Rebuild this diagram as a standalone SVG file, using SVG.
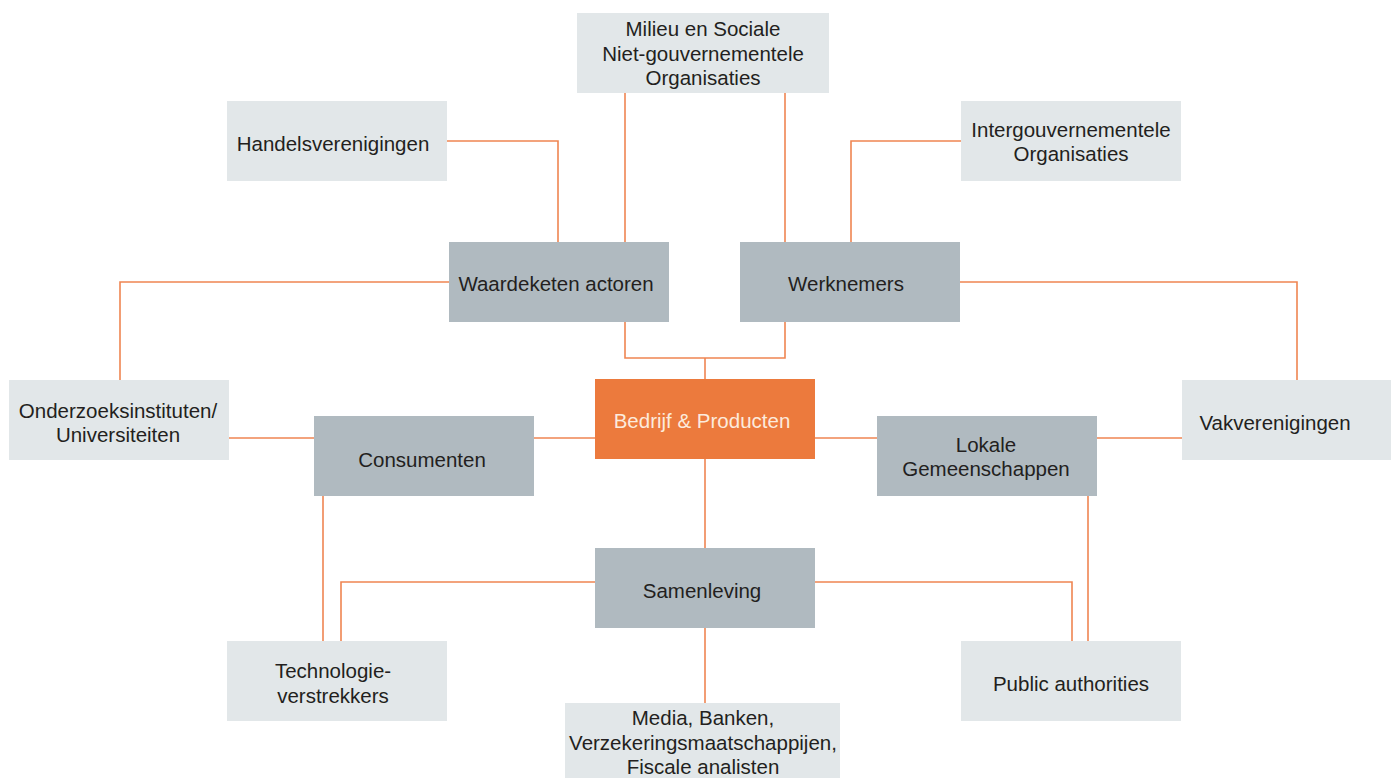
<svg xmlns="http://www.w3.org/2000/svg" width="1391" height="778" viewBox="0 0 1391 778">
<style>
.d{fill:#B0BAC0}
.l{fill:#E2E7E9}
.o{fill:#EC7A3D}
text{font-family:"Liberation Sans",Arial,sans-serif;font-size:20.5px;fill:#231F20;text-anchor:middle}
.w{fill:#FCEBDD}
#connectors path{fill:none;stroke:#EF8552;stroke-width:1.6}
</style>
<rect width="1391" height="778" fill="#fff"/>
<g id="connectors">
<path d="M447 141H558V242"/>
<path d="M625 93V242"/>
<path d="M785 93V242"/>
<path d="M961 141H851V242"/>
<path d="M449 282H120V380"/>
<path d="M960 282H1297V380"/>
<path d="M625 322V358H785V322"/>
<path d="M705 358V379"/>
<path d="M229 438H314"/>
<path d="M534 438H595"/>
<path d="M815 438H877"/>
<path d="M1097 438H1182"/>
<path d="M705 459V548"/>
<path d="M323 496V641"/>
<path d="M595 582H341V641"/>
<path d="M815 582H1072V641"/>
<path d="M1088 496V641"/>
<path d="M705 628V703"/>
</g>
<g id="milieu"><rect class="l" x="577" y="13" width="252" height="80"/><text x="703" y="36">Milieu en Sociale</text><text x="703" y="60.5">Niet-gouvernementele</text><text x="703" y="85">Organisaties</text></g>
<g id="handels"><rect class="l" x="227" y="101" width="220" height="80"/><text x="333" y="151">Handelsverenigingen</text></g>
<g id="intergouv"><rect class="l" x="961" y="101" width="220" height="80"/><text x="1071" y="137">Intergouvernementele</text><text x="1071" y="161">Organisaties</text></g>
<g id="waardeketen"><rect class="d" x="449" y="242" width="220" height="80"/><text x="556" y="291">Waardeketen actoren</text></g>
<g id="werknemers"><rect class="d" x="740" y="242" width="220" height="80"/><text x="846" y="291">Werknemers</text></g>
<g id="onderzoek"><rect class="l" x="9" y="380" width="220" height="80"/><text x="118" y="418">Onderzoeksinstituten/</text><text x="118" y="442">Universiteiten</text></g>
<g id="bedrijf"><rect class="o" x="595" y="379" width="220" height="80"/><text class="w" x="702" y="428">Bedrijf &amp; Producten</text></g>
<g id="vak"><rect class="l" x="1182" y="380" width="215" height="80"/><text x="1275" y="430">Vakverenigingen</text></g>
<g id="consumenten"><rect class="d" x="314" y="416" width="220" height="80"/><text x="422" y="467">Consumenten</text></g>
<g id="lokale"><rect class="d" x="877" y="416" width="220" height="80"/><text x="986" y="452">Lokale</text><text x="986" y="476">Gemeenschappen</text></g>
<g id="samenleving"><rect class="d" x="595" y="548" width="220" height="80"/><text x="702" y="598">Samenleving</text></g>
<g id="technologie"><rect class="l" x="227" y="641" width="220" height="80"/><text x="333" y="678">Technologie-</text><text x="333" y="703">verstrekkers</text></g>
<g id="public"><rect class="l" x="961" y="641" width="220" height="80"/><text x="1071" y="691">Public authorities</text></g>
<g id="media"><rect class="l" x="565" y="703" width="275" height="80"/><text x="703" y="725">Media, Banken,</text><text x="703" y="750">Verzekeringsmaatschappijen,</text><text x="703" y="774">Fiscale analisten</text></g>
</svg>
